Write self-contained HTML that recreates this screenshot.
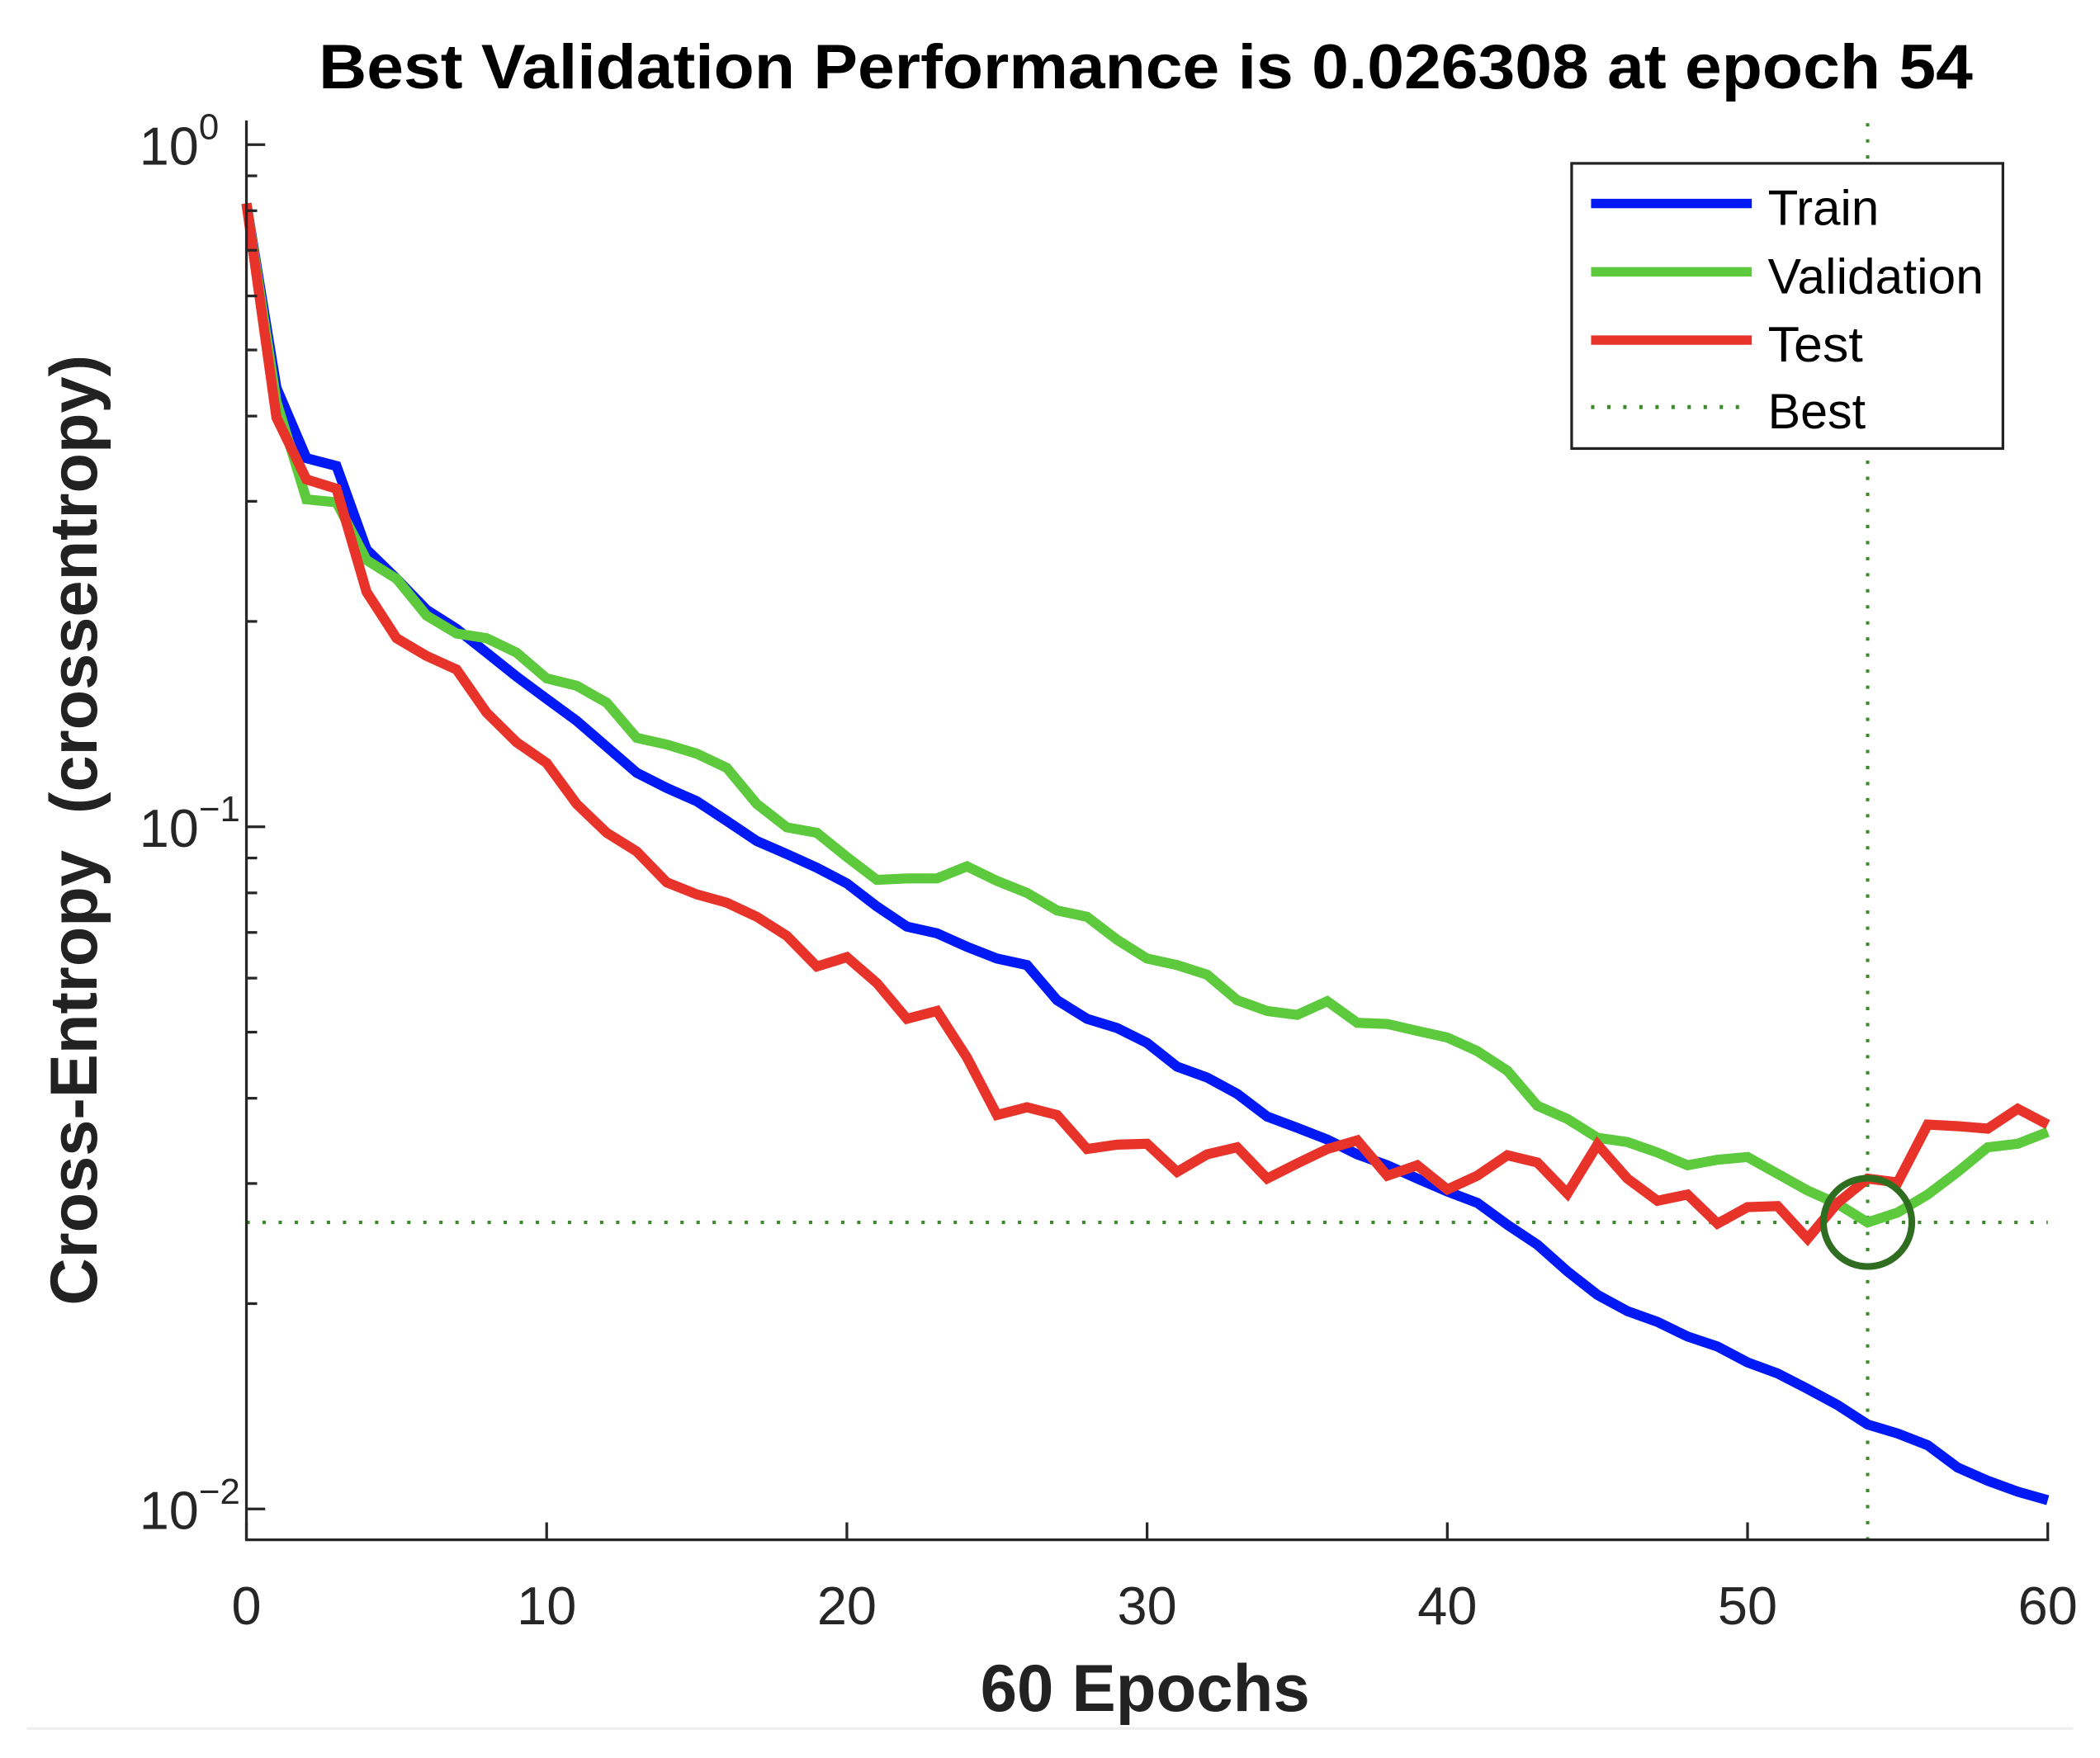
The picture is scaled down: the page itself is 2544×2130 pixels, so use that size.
<!DOCTYPE html>
<html><head><meta charset="utf-8"><style>
html,body{margin:0;padding:0;background:#fff;}
svg{display:block;}
text{font-family:"Liberation Sans",Arial,sans-serif;}
</style></head><body>
<svg id="chart" width="2544" height="2130" viewBox="0 0 1568 1313" preserveAspectRatio="none" xmlns="http://www.w3.org/2000/svg">
<text x="238" y="66" font-size="47" font-weight="bold" textLength="1235" lengthAdjust="spacingAndGlyphs" fill="#000">Best Validation Performance is 0.026308 at epoch 54</text>
<g id="grid"></g>
<g id="series"></g>
<g id="axes"></g>
<text x="732" y="1278" font-size="50" font-weight="bold" textLength="246" lengthAdjust="spacingAndGlyphs" fill="#222">60 Epochs</text>
<text transform="translate(72,975) rotate(-90)" font-size="50" font-weight="bold" textLength="710" lengthAdjust="spacingAndGlyphs" fill="#222" xml:space="preserve">Cross-Entropy  (crossentropy)</text>
<line x1="20" y1="1291" x2="1548" y2="1291" stroke="#eeeeee" stroke-width="2"/>
<g id="legend">
<rect x="1173.5" y="122" width="322" height="213" fill="#fff" stroke="#222" stroke-width="2"/>
<line x1="1188" y1="152" x2="1308" y2="152" stroke="#0019f5" stroke-width="7"/>
<text x="1320" y="168" font-size="37" textLength="83" lengthAdjust="spacingAndGlyphs" fill="#000">Train</text>
<line x1="1188" y1="203" x2="1308" y2="203" stroke="#5dc93d" stroke-width="7"/>
<text x="1320" y="219" font-size="37" textLength="161" lengthAdjust="spacingAndGlyphs" fill="#000">Validation</text>
<line x1="1188" y1="254" x2="1308" y2="254" stroke="#e8332a" stroke-width="7"/>
<text x="1320" y="270" font-size="37" textLength="71" lengthAdjust="spacingAndGlyphs" fill="#000">Test</text>
<line x1="1188" y1="304" x2="1302" y2="304" stroke="#3d8a2c" stroke-width="3" stroke-dasharray="2.5,9.5"/>
<text x="1320" y="320" font-size="37" textLength="73" lengthAdjust="spacingAndGlyphs" fill="#000">Best</text>
</g>
</svg>
<script>
const epochs = Array.from({length:61},(_,i)=>i);
const trainLoss = [0.820,0.440,0.347,0.338,0.255,0.231,0.208,0.195,0.180,0.166,0.154,0.143,0.131,0.120,0.114,0.109,0.102,0.0953,0.0912,0.0871,0.0826,0.0764,0.0714,0.0698,0.0667,0.0641,0.0627,0.0557,0.0523,0.0507,0.0482,0.0445,0.0429,0.0406,0.0376,0.0362,0.0348,0.0331,0.0319,0.0305,0.0292,0.0281,0.0261,0.0244,0.0223,0.0206,0.0195,0.0188,0.0179,0.0173,0.0164,0.0158,0.0150,0.0142,0.0133,0.0129,0.0124,0.0115,0.0110,0.0106,0.0103];
const validationLoss = [0.820,0.420,0.302,0.299,0.246,0.231,0.204,0.192,0.189,0.180,0.165,0.161,0.152,0.135,0.132,0.128,0.122,0.108,0.0998,0.0980,0.0903,0.0836,0.0840,0.0840,0.0875,0.0833,0.0800,0.0754,0.0738,0.0683,0.0641,0.0627,0.0607,0.0557,0.0537,0.0530,0.0555,0.0516,0.0514,0.0502,0.0491,0.0469,0.0439,0.0390,0.0373,0.0350,0.0345,0.0333,0.0319,0.0325,0.0328,0.0310,0.0293,0.0280,0.026308,0.0272,0.0289,0.0312,0.0339,0.0343,0.0357];
const testLoss = [0.820,0.398,0.323,0.313,0.221,0.189,0.178,0.170,0.147,0.133,0.124,0.108,0.0980,0.0920,0.0829,0.0796,0.0774,0.0738,0.0692,0.0624,0.0644,0.0590,0.0523,0.0537,0.0459,0.0378,0.0388,0.0378,0.0337,0.0342,0.0343,0.0312,0.0331,0.0339,0.0305,0.0321,0.0337,0.0347,0.0308,0.0319,0.0294,0.0308,0.0330,0.0322,0.0290,0.0342,0.0305,0.0283,0.0289,0.0262,0.0277,0.0278,0.0249,0.0281,0.0305,0.0301,0.0366,0.0364,0.0361,0.0386,0.0366];
const bestEpoch = [54];
const bestValue = [0.026308];
const xTicks = [0,10,20,30,40,50,60];
const yMajorTicks = [1,0.1,0.01];
const yMajorExponents = ["0","−1","−2"];

const NS="http://www.w3.org/2000/svg";
const X0=184, X1=1529, YTOP=100, YBOT=1150;
function sx(e){return X0+(X1-X0)*e/60;}
function sy(v){return 108-509.5*Math.log10(v);}
function mk(tag,attrs,parent){const el=document.createElementNS(NS,tag);for(const k in attrs)el.setAttribute(k,attrs[k]);parent.appendChild(el);return el;}
const gAx=document.getElementById('axes'), gS=document.getElementById('series'), gG=document.getElementById('grid');

const bx=sx(bestEpoch[0]), by=sy(bestValue[0]);
let vl=mk('line',{x1:bx,y1:92,x2:bx,y2:YBOT,stroke:'#3d8a2c','stroke-width':2.5,'stroke-dasharray':'2.5,9.5'},gG);


let hl=mk('line',{x1:X0,y1:by,x2:X1,y2:by,stroke:'#3d8a2c','stroke-width':2.5,'stroke-dasharray':'2.5,9.5'},gG);



function drawLine(vals,color,name){
  const pts=vals.map((v,i)=>sx(epochs[i]).toFixed(2)+','+sy(v).toFixed(2)).join(' ');
  const p=mk('polyline',{points:pts,fill:'none',stroke:color,'stroke-width':7.5,'stroke-linejoin':'miter','stroke-miterlimit':3},gS);
  
  
}
drawLine(trainLoss,'#0019f5','train-line');
drawLine(validationLoss,'#5dc93d','validation-line');
drawLine(testLoss,'#e8332a','test-line');

let c=mk('circle',{cx:bx,cy:by,r:33,fill:'none',stroke:'#2f6e20','stroke-width':5},gS);



let ya=mk('line',{x1:X0,y1:YTOP-10,x2:X0,y2:YBOT,stroke:'#262626','stroke-width':2},gAx);


let xa=mk('line',{x1:X0-1,y1:YBOT,x2:X1+1,y2:YBOT,stroke:'#262626','stroke-width':2},gAx);



xTicks.forEach(t=>{
  const x=sx(t);
  const tk=mk('line',{x1:x,y1:YBOT,x2:x,y2:YBOT-13,stroke:'#262626','stroke-width':2},gAx);
  
  
  const tl=mk('text',{x:x,y:1213,'font-size':40,'text-anchor':'middle',fill:'#262626'},gAx);
  tl.textContent=String(t);
  
  
});

yMajorTicks.forEach((v,i)=>{
  const y=sy(v);
  const tk=mk('line',{x1:X0,y1:y,x2:X0+14,y2:y,stroke:'#262626','stroke-width':2},gAx);
  
  
  const tl=mk('text',{x:104,y:y+15,'font-size':40,fill:'#262626'},gAx);
  
  
  tl.textContent='10';
  const sup=mk('tspan',{dy:-19,'font-size':27},tl);
  sup.textContent=yMajorExponents[i];
  for(let m=2;m<=9;m++){
    const mv=v*m/10;
    const my=sy(mv);
    if(my<YTOP||my>YBOT) continue;
    const mt=mk('line',{x1:X0,y1:my,x2:X0+8,y2:my,stroke:'#262626','stroke-width':2},gAx);
    
    
  }
});
</script>
</body></html>
